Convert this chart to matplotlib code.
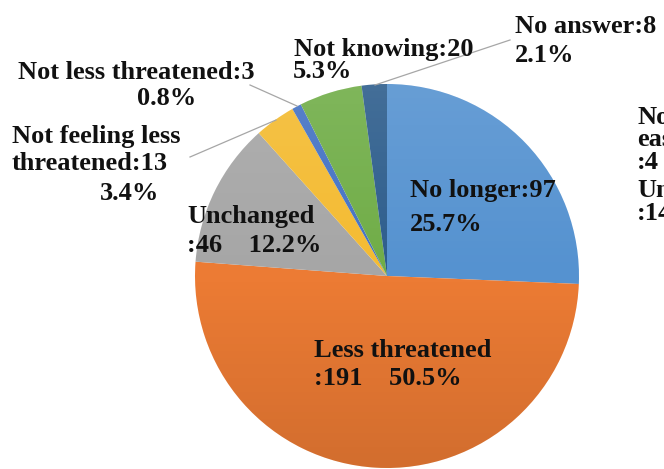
import matplotlib
matplotlib.use('Agg')  # non-interactive backend
import matplotlib.pyplot as plt
import numpy as np
from matplotlib.patches import Circle

# Survey answers (clockwise from 12 o'clock)
categories = ['No longer', 'Less threatened', 'Unchanged',
              'Not feeling less threatened', 'Not less threatened',
              'Not knowing', 'No answer']
counts = [97, 191, 46, 13, 3, 20, 8]
colors = ['#5592d0', '#ec7b34', '#a6a6a6', '#f4bb31', '#4472c4', '#70ad47', '#2d5d8c']

W, H = 664, 469
fig = plt.figure(figsize=(W / 100, H / 100), dpi=100)
fig.patch.set_facecolor('white')

# pie axes, placed in pixels
cx, cy, r = 387, 276, 192
ax = fig.add_axes([(cx - r) / W, (H - cy - r) / H, 2 * r / W, 2 * r / H])
ax.pie(counts, colors=colors, startangle=90, counterclock=False,
       wedgeprops=dict(linewidth=0))
ax.set_aspect('auto')
ax.set_xlim(-1, 1)
ax.set_ylim(-1, 1)
ax.axis('off')

# soft light-to-dark shading like the office style fill
t = np.linspace(0, 1, 256)[:, None, None]
shade = np.zeros((256, 2, 4))
shade[..., :3] = np.where(t < 0.5, 1.0, 0.0)
shade[..., 3] = (np.abs(t - 0.5) * 0.22)[..., 0]
img = ax.imshow(shade, extent=(-1, 1, -1, 1), origin='upper', aspect='auto', zorder=5)
img.set_clip_path(Circle((0, 0), 1, transform=ax.transData))

total = sum(counts)
pct = [f'{100 * c / total:.1f}%' for c in counts]

font = dict(family=['Liberation Serif', 'DejaVu Serif'], fontweight='bold',
            fontsize=19, color='#111111', va='baseline', ha='left', zorder=10)


def put(x, y, s):
    fig.text(x / W, 1 - y / H, s, **font)


# label lines at pixel positions (left x, baseline y)
put(410, 197, f'{categories[0]}:{counts[0]}')
put(410, 231, pct[0])
put(314, 357, categories[1])
put(314, 385, f':{counts[1]}    {pct[1]}')
put(187, 223, categories[2])
put(187, 252, f':{counts[2]}    {pct[2]}')
put(12, 143, 'Not feeling less')
put(12, 170, f'threatened:{counts[3]}')
put(100, 200, pct[3])
put(18, 79, f'{categories[4]}:{counts[4]}')
put(137, 105, pct[4])
put(294, 56, f'{categories[5]}:{counts[5]}')
put(293, 78, pct[5])
put(515, 33, f'{categories[6]}:{counts[6]}')
put(515, 62, pct[6])

# labels of the next chart, cut by the right edge
put(637, 124, 'Not')
put(637, 146, 'easy')
put(637, 169, ':4')
put(637, 197, 'Unc')
put(637, 220, ':14')

# leader lines
leaders = [((250, 85), (297, 106)),
           ((190, 157), (276, 120)),
           ((510, 40), (375, 85))]
for (x0, y0), (x1, y1) in leaders:
    fig.add_artist(plt.Line2D([x0 / W, x1 / W], [1 - y0 / H, 1 - y1 / H],
                              transform=fig.transFigure, color='#a6a6a6', lw=0.9))

fig.savefig('out.png', dpi=100)
